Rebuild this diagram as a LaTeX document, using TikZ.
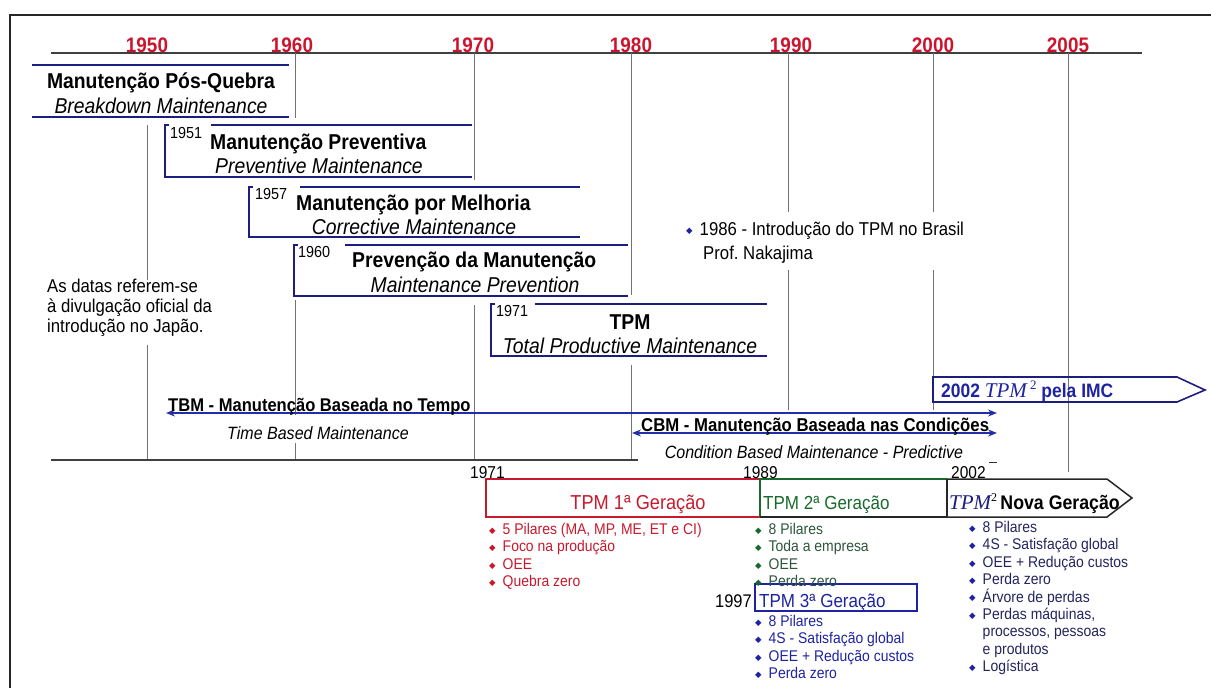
\documentclass[tikz,border=0pt]{standalone}
\usepackage{fontspec}
\setmainfont{Liberation Sans}[FakeStretch=0.9]
\newfontfamily\tnr{Liberation Serif}
\newfontfamily\djv{DejaVu Sans}
\usetikzlibrary{arrows.meta}
\frenchspacing
\definecolor{yrred}{RGB}{205,20,45}
\definecolor{navy}{RGB}{28,30,125}
\definecolor{arrblue}{RGB}{35,45,165}
\definecolor{gen1}{RGB}{200,25,45}
\definecolor{gen2}{RGB}{25,105,45}
\definecolor{gen2txt}{RGB}{45,85,60}
\definecolor{gen3}{RGB}{30,35,160}
\definecolor{listnavy}{RGB}{35,35,95}
\definecolor{gridgray}{RGB}{115,115,115}
\newcommand\dmd{{\djv\fontsize{8.5}{8.5}\selectfont\raisebox{1.2pt}{◆}}\hspace{7pt}}
\newcommand\nodmd{\hphantom{{\djv\fontsize{8.5}{8.5}\selectfont ◆}}\hspace{7pt}}
\tikzset{
  yr/.style={anchor=base,inner sep=0pt,text=yrred,font=\bfseries\fontsize{21}{22}\selectfont},
  ttl/.style={inner sep=0pt,font=\bfseries\fontsize{21.5}{24}\selectfont},
  sub/.style={anchor=base,inner sep=0pt,font=\itshape\fontsize{21.5}{24}\selectfont},
  smyr/.style={anchor=base west,inner sep=0pt,font=\fontsize{16}{18}\selectfont},
  gridln/.style={draw=gridgray,line width=0.9pt},
  bxln/.style={draw=navy,line width=1.8pt},
  axisln/.style={draw=black!75,line width=1.3pt},
  dbl/.style={draw=arrblue,line width=1.8pt,{Stealth[length=9pt,width=7pt]}-{Stealth[length=9pt,width=7pt]}},
  lst/.style={anchor=north west,inner sep=0pt,align=left,font=\fontsize{15.5}{17.4}\selectfont},
  gentxt/.style={anchor=base,inner sep=0pt,font=\fontsize{18.9}{20}\selectfont},
}
\begin{document}
\begin{tikzpicture}[x=1pt,y=-1pt]
\useasboundingbox (0,0) rectangle (1211,688);
% frame
\coordinate (frTL) at (10,15);
\coordinate (frTR) at (1211,15);
\coordinate (frBL) at (10,688);
\draw[line width=2pt,black!85] (frTR) -- (frTL) -- (frBL);
% top axis
\coordinate (ta1) at (51,53);
\coordinate (ta2) at (1142,53);
\draw[axisln] (ta1) -- (ta2);
% year labels
\node[yr] (y1950) at (147,52) {1950};
\node[yr] (y1960) at (292,52) {1960};
\node[yr] (y1970) at (473,52) {1970};
\node[yr] (y1980) at (631,52) {1980};
\node[yr] (y1990) at (791,52) {1990};
\node[yr] (y2000) at (933,52) {2000};
\node[yr] (y2005) at (1068,52) {2005};
% grid lines
\draw[gridln] (147,125) -- (147,280);
\draw[gridln] (147,345) -- (147,460);
\draw[gridln] (295,53) -- (295,118);
\draw[gridln] (295,300) -- (295,415);
\draw[gridln] (295,443) -- (295,460);
\draw[gridln] (474,53) -- (474,180);
\draw[gridln] (474,305) -- (474,460);
\draw[gridln] (631,53) -- (631,295);
\draw[gridln] (631,365) -- (631,460);
\draw[gridln] (788,53) -- (788,212);
\draw[gridln] (788,270) -- (788,410);
\draw[gridln] (933,53) -- (933,212);
\draw[gridln] (933,270) -- (933,410);
\draw[gridln] (1068,53) -- (1068,472);
% bottom axis
\coordinate (ba1) at (51,460);
\coordinate (ba2) at (638,460);
\draw[axisln] (ba1) -- (ba2);

% Breakdown
\draw[bxln] (32,65) -- (289,65);
\draw[bxln] (32,117) -- (289,117);
\node[ttl,anchor=base] (bdT) at (161,88) {Manutenção Pós-Quebra};
\node[sub] (bdS) at (161,113) {Breakdown Maintenance};
% Preventiva
\draw[bxln] (169,125) -- (165,125) -- (165,177) -- (472,177);
\draw[bxln] (211,125) -- (472,125);
\node[smyr] (p51) at (170,138) {1951};
\node[ttl,anchor=base west] (pvT) at (210,149) {Manutenção Preventiva};
\node[sub] (pvS) at (319,173) {Preventive Maintenance};
% Melhoria
\draw[bxln] (253,187) -- (249,187) -- (249,237) -- (580,237);
\draw[bxln] (300,187) -- (580,187);
\node[smyr] (p57) at (255,199) {1957};
\node[ttl,anchor=base west] (mlT) at (296,210) {Manutenção por Melhoria};
\node[sub] (mlS) at (414,234) {Corrective Maintenance};
% Prevencao
\draw[bxln] (298,245) -- (294,245) -- (294,296) -- (628,296);
\draw[bxln] (345,245) -- (628,245);
\node[smyr] (p60) at (298,257) {1960};
\node[ttl,anchor=base west] (mpT) at (352,267) {Prevenção da Manutenção};
\node[sub] (mpS) at (475,292) {Maintenance Prevention};
% TPM
\draw[bxln] (495,304) -- (491,304) -- (491,356) -- (767,356);
\draw[bxln] (535,304) -- (767,304);
\node[smyr] (p71) at (496,316) {1971};
\node[ttl,anchor=base] (tpT) at (630,329) {TPM};
\node[sub] (tpS) at (630,353) {Total Productive Maintenance};

% note
\node[anchor=north west,inner sep=0pt,align=left,font=\fontsize{18.6}{20}\selectfont] (note) at (47,279)
 {As datas referem-se\\à divulgação oficial da\\introdução no Japão.};
% 1986
\node[anchor=base west,inner sep=0pt,font=\fontsize{18.6}{20}\selectfont] (b86) at (686,235)
 {\textcolor{gen3}{\dmd}1986 - Introdução do TPM no Brasil};
\node[anchor=base west,inner sep=0pt,font=\fontsize{18.6}{20}\selectfont] (b86b) at (703,259) {Prof. Nakajima};

% TBM / CBM
\coordinate (tbmL) at (166,413);
\coordinate (tbmR) at (997,413);
\draw[dbl] (tbmL) -- (tbmR);
\node[anchor=base west,inner sep=0pt,font=\bfseries\fontsize{18.4}{20}\selectfont] (tbmT) at (168,411) {TBM - Manutenção Baseada no Tempo};
\node[anchor=base,inner sep=0pt,font=\itshape\fontsize{17.8}{20}\selectfont] (tbmS) at (318,439) {Time Based Maintenance};
\coordinate (cbmL) at (632,433);
\coordinate (cbmR) at (997,433);
\draw[dbl] (cbmL) -- (cbmR);
\node[anchor=base west,inner sep=0pt,font=\bfseries\fontsize{18.6}{20}\selectfont] (cbmT) at (641,431) {CBM - Manutenção Baseada nas Condições};
\node[anchor=base,inner sep=0pt,font=\itshape\fontsize{17.8}{20}\selectfont] (cbmS) at (814,458) {Condition Based Maintenance - Predictive};

% 2002 TPM2 pela IMC
\draw[draw=navy,line width=1.6pt] (933,377) -- (1177,377) -- (1205,390) -- (1177,402) -- (933,402) -- cycle;
\node[anchor=base west,inner sep=0pt,text=gen3,font=\bfseries\fontsize{19.4}{21}\selectfont] (imc) at (941,397)
 {2002 {\tnr\mdseries\itshape\fontsize{21}{21}\selectfont TPM}\,{\tnr\mdseries\fontsize{13}{13}\selectfont\raisebox{7.5pt}{2}} pela IMC};

% bottom labels
\node[smyr,font=\fontsize{17.2}{19}\selectfont] (l71) at (470,478) {1971};
\node[smyr,font=\fontsize{17.2}{19}\selectfont] (l89) at (743,478) {1989};
\node[smyr,font=\fontsize{17.2}{19}\selectfont] (l02) at (951,478) {2002};
\coordinate (dsh1) at (989,462);
\coordinate (dsh2) at (997,462);
\draw[line width=1pt,black!80] (dsh1) -- (dsh2);

% generation boxes
\draw[draw=gen1,line width=1.5pt] (486,479) rectangle (760,517);
\node[gentxt,text=gen1,font=\fontsize{20.2}{22}\selectfont] (g1) at (638,509) {TPM 1ª Geração};
\draw[draw=gen2,line width=1.5pt] (760,517) -- (760,479) -- (947,479);
\draw[draw=black!85,line width=1.5pt] (760,517) -- (947,517) -- (947,479);
\node[gentxt,anchor=base west,text=gen2] (g2) at (763,509) {TPM 2ª Geração};
\draw[draw=black!85,line width=1.5pt] (947,479) -- (1107,479) -- (1132,498) -- (1107,517) -- (947,517);
\node[anchor=base west,inner sep=0pt,font=\bfseries\fontsize{19.7}{21}\selectfont] (g4) at (949,509)
 {{\tnr\mdseries\itshape\textcolor{navy}{\fontsize{21}{21}\selectfont TPM}}{\tnr\mdseries\fontsize{12}{12}\selectfont\raisebox{7.5pt}{2}}\,Nova Geração};
\draw[draw=gen3,line width=1.5pt] (755,584) rectangle (917,611);
\node[gentxt,anchor=base west,text=gen3] (g3) at (759,607) {TPM 3ª Geração};
\node[gentxt,anchor=base east,font=\fontsize{18.3}{20}\selectfont] (y97) at (752,607) {1997};

% lists
\node[lst,text=gen1] (lst1) at (489,523)
 {\dmd 5 Pilares (MA, MP, ME, ET e CI)\\\dmd Foco na produção\\\dmd OEE\\\dmd Quebra zero};
\node[lst,text=gen2txt] (lst2) at (755,523)
 {\textcolor{gen2}{\dmd}8 Pilares\\\textcolor{gen2}{\dmd}Toda a empresa\\\textcolor{gen2}{\dmd}OEE\\\textcolor{gen2}{\dmd}Perda zero};
\node[lst,text=gen3] (lst3) at (755,615)
 {\dmd 8 Pilares\\\dmd 4S - Satisfação global\\\dmd OEE + Redução custos\\\dmd Perda zero};
\node[lst,text=listnavy] (lst4) at (969,521)
 {\textcolor{gen3}{\dmd}8 Pilares\\\textcolor{gen3}{\dmd}4S - Satisfação global\\\textcolor{gen3}{\dmd}OEE + Redução custos\\\textcolor{gen3}{\dmd}Perda zero\\\textcolor{gen3}{\dmd}Árvore de perdas\\\textcolor{gen3}{\dmd}Perdas máquinas,\\\nodmd processos, pessoas\\\nodmd e produtos\\\textcolor{gen3}{\dmd}Logística};
\end{tikzpicture}
\end{document}
